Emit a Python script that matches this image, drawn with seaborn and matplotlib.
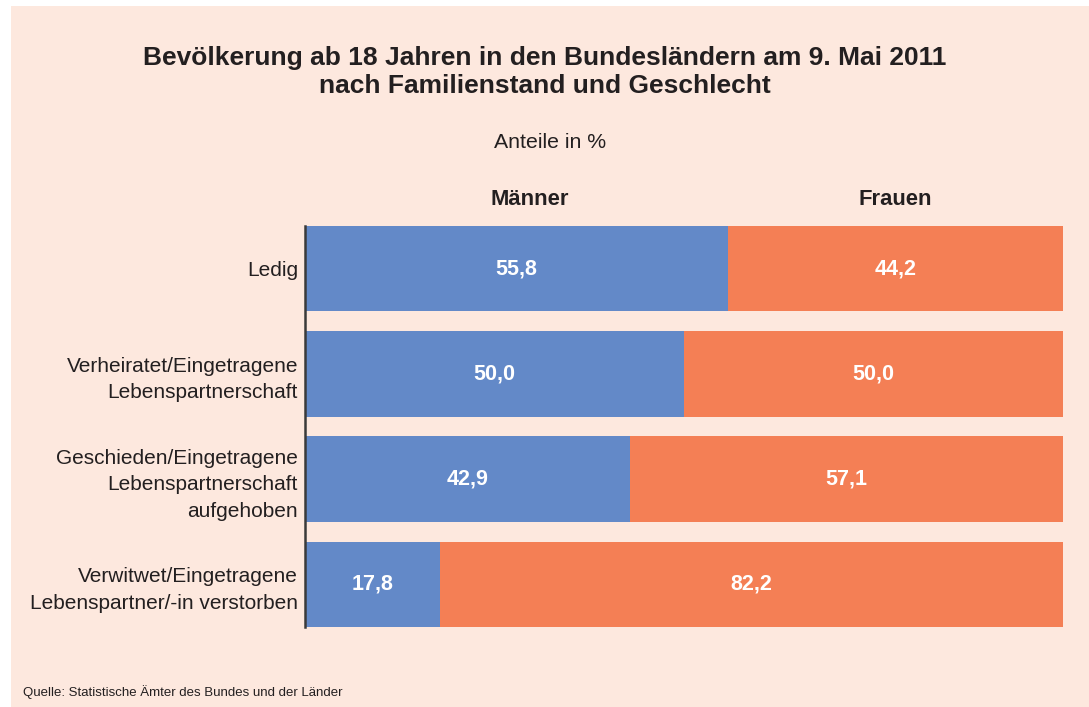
import pandas as pd
import matplotlib.pyplot as plt
import seaborn as sns

# Data
categories = [
    "Ledig",
    "Verheiratet/Eingetragene\nLebenspartnerschaft",
    "Geschieden/Eingetragene\nLebenspartnerschaft\naufgehoben",
    "Verwitwet/Eingetragene\nLebenspartner/-in verstorben",
]
maenner = [55.8, 50.0, 42.9, 17.8]
frauen = [44.2, 50.0, 57.1, 82.2]

df = pd.DataFrame({"Kategorie": categories, "Männer": maenner, "Frauen": frauen})
df["Gesamt"] = df["Männer"] + df["Frauen"]

bg = "#fde8de"
blue = "#6389c8"
orange = "#f47f55"
text_col = "#231f20"

sns.set_style("white")
plt.rcParams["font.family"] = ["Liberation Sans", "DejaVu Sans"]

fig = plt.figure(figsize=(10.89, 7.07), dpi=100)
fig.patch.set_facecolor("white")
# peach panel
fig.patches.append(plt.Rectangle((11 / 1089, 0), 1, 1 - 6 / 707, transform=fig.transFigure,
                                 facecolor=bg, edgecolor="none", zorder=-10))

ax = fig.add_axes([305 / 1089, 1 - 627 / 707, (1063 - 305) / 1089, (627 - 226) / 707])
ax.set_facecolor("none")

# stacked bars: total in orange, Männer on top in blue
sns.barplot(data=df, x="Gesamt", y="Kategorie", color=orange, orient="h",
            width=0.81, saturation=1, ax=ax, errorbar=None, linewidth=0)
sns.barplot(data=df, x="Männer", y="Kategorie", color=blue, orient="h",
            width=0.81, saturation=1, ax=ax, errorbar=None, linewidth=0)

ax.set_xlim(0, 100)
ax.set_ylim(3.405, -0.405)
ax.set_xlabel("")
ax.set_ylabel("")
ax.set_xticks([])
for s in ["top", "right", "bottom"]:
    ax.spines[s].set_visible(False)
ax.spines["left"].set_color("#3a3a3a")
ax.spines["left"].set_linewidth(1.8)
ax.tick_params(axis="y", length=0, pad=5)
ax.set_yticks(range(len(categories)))
ax.set_yticklabels(categories, fontsize=15, color=text_col, linespacing=1.5, ha="right")

# value labels
for i, (m, f) in enumerate(zip(maenner, frauen)):
    ax.text(m / 2, i, f"{m:.1f}".replace(".", ","), ha="center", va="center",
            color="white", fontsize=15.5, fontweight="bold")
    ax.text(m + f / 2, i, f"{f:.1f}".replace(".", ","), ha="center", va="center",
            color="white", fontsize=15.5, fontweight="bold")

# titles
fig.text(545 / 1089, 1 - 58 / 707, "Bevölkerung ab 18 Jahren in den Bundesländern am 9. Mai 2011",
         ha="center", va="center", fontsize=19, fontweight="bold", color=text_col)
fig.text(545 / 1089, 1 - 86 / 707, "nach Familienstand und Geschlecht",
         ha="center", va="center", fontsize=19, fontweight="bold", color=text_col)
fig.text(550 / 1089, 1 - 143 / 707, "Anteile in %", ha="center", va="center",
         fontsize=15.3, color=text_col)
fig.text(530 / 1089, 1 - 199 / 707, "Männer", ha="center", va="center",
         fontsize=15.8, fontweight="bold", color=text_col)
fig.text(895 / 1089, 1 - 199 / 707, "Frauen", ha="center", va="center",
         fontsize=15.8, fontweight="bold", color=text_col)
fig.text(23 / 1089, 1 - 692 / 707, "Quelle: Statistische Ämter des Bundes und der Länder",
         ha="left", va="center", fontsize=9.5, color=text_col)

plt.savefig("out.png", dpi=100, facecolor=fig.get_facecolor())
